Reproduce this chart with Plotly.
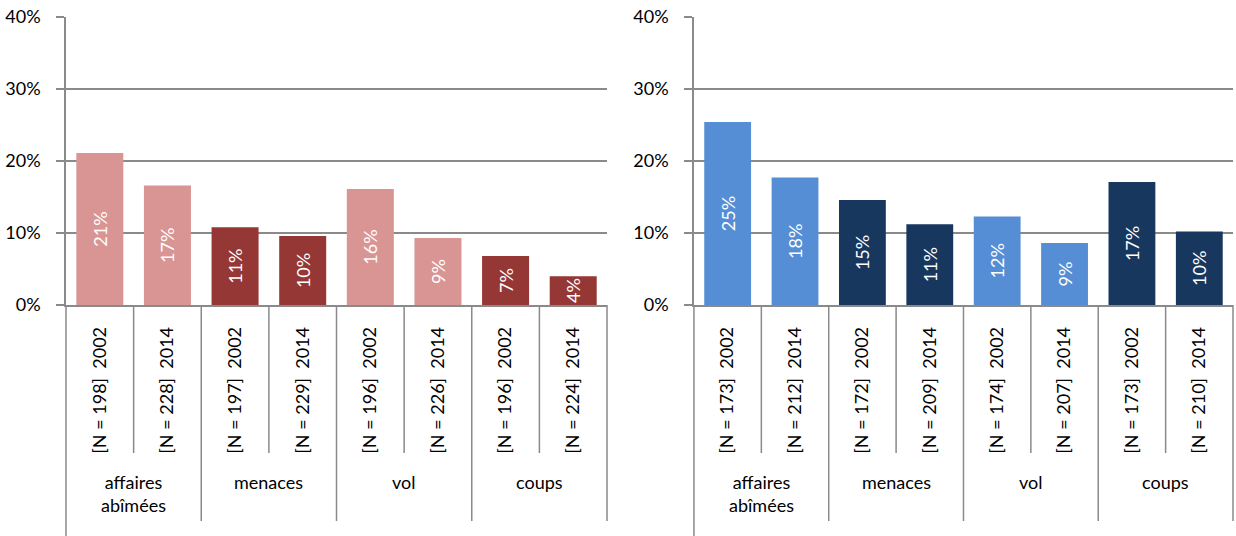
import plotly.graph_objects as go

groups = ["affaires<br>abîmées", "menaces", "vol", "coups"]
years = ["2002", "2014"]

left_n = [198, 228, 197, 229, 196, 226, 196, 224]
left_values = [21.1, 16.6, 10.8, 9.6, 16.1, 9.3, 6.8, 4.0]

right_n = [173, 212, 172, 209, 174, 207, 173, 210]
right_values = [25.4, 17.7, 14.6, 11.2, 12.3, 8.6, 17.1, 10.2]

y_ticks = [0, 10, 20, 30, 40]
y_tick_text = [f"{v}%" for v in y_ticks]

left_colors = ["#D99594", "#953735"]
right_colors = ["#558ED5", "#17375E"]

FONT = "Lato"
GRID = "#8A8A8A"

fig = go.Figure()

panels = [
    (left_n, left_values, left_colors, "x", "y", [0, 0.4636]),
    (right_n, right_values, right_colors, "x2", "y2", [0.5381, 1.0]),
]

n_years = len(years)
for idx, (ns, vals, cols, xa, ya, dom) in enumerate(panels):
    n = len(vals)
    xs = list(range(n))
    labels = [f"[N = {ns[i]}]  {years[i % n_years]}" for i in range(n)]
    colors = [cols[(i // n_years) % 2] for i in range(n)]
    fig.add_trace(go.Bar(
        x=xs, y=vals, xaxis=xa, yaxis=ya,
        marker=dict(color=colors, line=dict(width=0)),
        width=0.695,
        texttemplate="%{y:.0f}%",
        textposition="inside", insidetextanchor="middle",
        textangle=-90, constraintext="none",
        textfont=dict(family=FONT, size=18, color="white"),
        showlegend=False, hoverinfo="skip",
    ))
    suffix = "" if idx == 0 else "2"
    fig.update_layout(**{
        "xaxis" + suffix: dict(
            domain=dom, range=[-0.5, n - 0.5], tickmode="array",
            tickvals=xs, ticktext=labels, tickangle=-90, ticks="",
            showgrid=False, zeroline=False, showline=True,
            linecolor=GRID, linewidth=1.5,
            tickfont=dict(family=FONT, size=18, color="black"),
            ticklabelstandoff=13, fixedrange=True,
            anchor=ya,
        ),
        "yaxis" + suffix: dict(
            range=[0, 40], tickmode="array", tickvals=y_ticks,
            ticktext=y_tick_text,
            showgrid=True, gridcolor=GRID, gridwidth=1.5,
            zeroline=False, showline=True, linecolor=GRID, linewidth=1.5,
            ticks="outside", ticklen=8, tickcolor=GRID, tickwidth=1.5,
            tickfont=dict(family=FONT, size=18, color="black"),
            ticklabelstandoff=12, fixedrange=True,
            anchor=xa,
        ),
    })
    xd = xa + " domain"
    yd = ya + " domain"
    for k in range(n + 1):
        if k == 0:
            y_end = -0.81
        elif k % n_years == 0:
            y_end = -0.75
        else:
            y_end = -0.514
        fig.add_shape(type="line", xref=xd, yref=yd,
                      x0=k / n, x1=k / n, y0=0, y1=y_end,
                      line=dict(color=GRID, width=1.5))
    for g, name in enumerate(groups):
        fig.add_annotation(
            x=g * n_years + (n_years - 1) / 2, xref=xa,
            y=-0.57, yref=yd, yanchor="top",
            text=name, showarrow=False,
            font=dict(family=FONT, size=18, color="black"),
        )

fig.update_layout(
    width=1236, height=536,
    margin=dict(l=66, r=3, t=17, b=231),
    paper_bgcolor="white", plot_bgcolor="white",
    bargap=0.3,
)

fig.write_html("out.html", config={"displayModeBar": False},
               post_script="document.body.style.margin='0';")
